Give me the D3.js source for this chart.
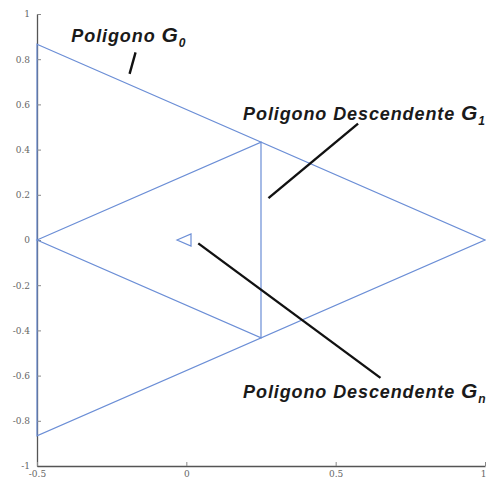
<!DOCTYPE html>
<html>
<head>
<meta charset="utf-8">
<script src="https://cdn.jsdelivr.net/npm/d3@7"></script>
<style>
  html, body { margin: 0; padding: 0; background: #fff; }
  svg { display: block; }
</style>
</head>
<body>
<svg id="chart" width="486" height="483"></svg>
<script>
// Descending polygons: each is the triangle of side midpoints of the previous one
const polygonG0 = [[-0.5, 0.866], [1, 0], [-0.5, -0.866]];
const polygonG1 = [[-0.5, 0], [0.25, 0.433], [0.25, -0.433]];
const polygonG5 = [[-0.03125, 0], [0.015625, 0.027], [0.015625, -0.027]];
const polygons = [polygonG0, polygonG1, polygonG5];

const xTicks = [-0.5, 0, 0.5, 1];
const yTicks = [-1, -0.8, -0.6, -0.4, -0.2, 0, 0.2, 0.4, 0.6, 0.8, 1];

// Annotations: label text, subscript, label anchor and pointer segment (data coordinates)
const labels = [
  { text: "Poligono ", sub: "0", at: [-0.385, 0.875], from: [-0.19, 0.735], to: [-0.17, 0.83] },
  { text: "Poligono Descendente ", sub: "1", at: [0.19, 0.53], from: [0.275, 0.185], to: [0.575, 0.515] },
  { text: "Poligono Descendente ", sub: "n", at: [0.19, -0.7], from: [0.04, -0.015], to: [0.65, -0.61] }
];

const svg = d3.select("#chart");
const x = d3.scaleLinear().domain([-0.5, 1]).range([37, 485]);
const y = d3.scaleLinear().domain([-1, 1]).range([466, 14]);

// Plain hyphen for negatives, as in the original plot
const fmt = d => String(d);

// Axes (left and bottom only), ticks pointing inward
const axisColor = "#555";
const yAxis = svg.append("g").attr("transform", `translate(${x(-0.5)},0)`)
  .call(d3.axisLeft(y).tickValues(yTicks).tickSizeInner(-4).tickSizeOuter(0)
    .tickFormat(fmt).tickPadding(7));
const xAxis = svg.append("g").attr("transform", `translate(0,${y(-1)})`)
  .call(d3.axisBottom(x).tickValues(xTicks).tickSizeInner(-4).tickSizeOuter(0)
    .tickFormat(fmt).tickPadding(5));
[yAxis, xAxis].forEach(g => {
  g.select(".domain").attr("stroke", axisColor).attr("stroke-width", 1.3);
  g.selectAll(".tick line").attr("stroke", "#888");
  g.selectAll(".tick text").attr("fill", "#666")
    .style("font-family", "'DejaVu Serif', serif").style("font-size", "9px");
});
// Keep the last x label inside the frame
xAxis.selectAll(".tick text").filter(d => d === 1).attr("text-anchor", "end").attr("dx", 1);

// Polygons
const line = d3.line().x(d => x(d[0])).y(d => y(d[1]));
svg.append("g").selectAll("path").data(polygons).join("path")
  .attr("d", d => line(d) + "Z")
  .attr("fill", "none")
  .attr("stroke", "#6b8ed6")
  .attr("stroke-width", 1.2);

// Annotation pointers and labels
const ann = svg.append("g");
ann.selectAll("line").data(labels).join("line")
  .attr("x1", d => x(d.from[0])).attr("y1", d => y(d.from[1]))
  .attr("x2", d => x(d.to[0])).attr("y2", d => y(d.to[1]))
  .attr("stroke", "#111").attr("stroke-width", 2.4);

const t = ann.selectAll("text").data(labels).join("text")
  .attr("x", d => x(d.at[0])).attr("y", d => y(d.at[1]))
  .attr("fill", "#1a1a1a")
  .style("font-family", "'Liberation Sans', Arial, sans-serif")
  .style("font-weight", "bold").style("font-style", "italic")
  .style("font-size", "18px")
  .style("letter-spacing", "0.9px");
t.append("tspan").text(d => d.text);
t.append("tspan").text("G").style("font-size", "21px");
t.append("tspan").text(d => d.sub).attr("dy", 5).style("font-size", "12px");
</script>
</body>
</html>
